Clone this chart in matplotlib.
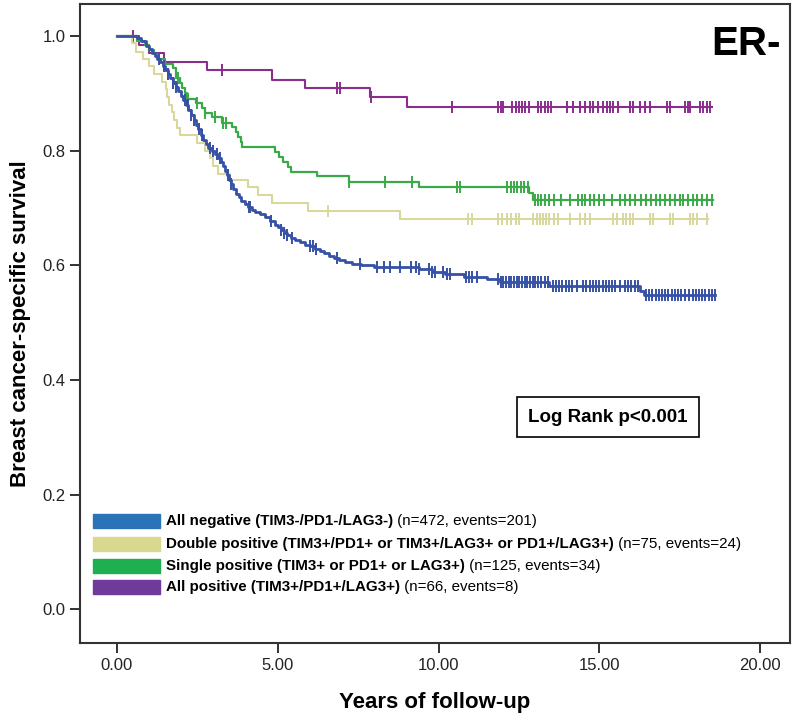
import numpy as np
import matplotlib
matplotlib.use("Agg")
import matplotlib.pyplot as plt

plt.rcParams["font.family"] = ["Liberation Sans", "DejaVu Sans"]

# step curves: (time of drop, survival after drop)
neg_t = [0.0, 0.61, 0.75, 0.9, 1.0, 1.1, 1.18, 1.26, 1.34, 1.42, 1.49, 1.58, 1.66, 1.74, 1.82,
         1.9, 1.98, 2.06, 2.14, 2.22, 2.30, 2.38, 2.45, 2.52, 2.6, 2.68, 2.76, 2.84, 2.95,
         3.05, 3.15, 3.25, 3.31, 3.37, 3.43, 3.49, 3.55, 3.62, 3.69, 3.78, 3.87, 3.97, 4.08,
         4.19, 4.3, 4.45, 4.6, 4.76, 4.9, 5.0, 5.1, 5.2, 5.3, 5.4, 5.55, 5.7, 5.85, 6.0,
         6.15, 6.3, 6.45, 6.6, 6.75, 6.9, 7.1, 7.3, 7.6, 8.0, 9.4, 9.8, 10.2, 10.8, 11.5,
         11.9, 13.45, 16.25, 16.4]
neg_s = [1.0, 0.996, 0.991, 0.983, 0.977, 0.970, 0.965, 0.960, 0.954, 0.947, 0.941, 0.933,
         0.926, 0.918, 0.911, 0.904, 0.896, 0.888, 0.879, 0.871, 0.862, 0.853, 0.845, 0.837,
         0.828, 0.819, 0.811, 0.804, 0.799, 0.795, 0.788, 0.780, 0.773, 0.765, 0.757, 0.749,
         0.741, 0.733, 0.725, 0.719, 0.713, 0.707, 0.701, 0.697, 0.693, 0.689, 0.684, 0.677,
         0.671, 0.666, 0.661, 0.656, 0.652, 0.648, 0.644, 0.640, 0.636, 0.633, 0.629, 0.625,
         0.621, 0.617, 0.613, 0.610, 0.606, 0.603, 0.600, 0.597, 0.594, 0.589, 0.584, 0.580,
         0.576, 0.571, 0.563, 0.555, 0.549]
neg_end = 18.6
neg_cens = [1.3, 1.45, 1.6, 1.75, 1.85, 2.1, 2.2, 2.3, 2.4, 2.55, 2.65, 2.9, 3.0, 3.1, 3.2,
            3.45, 3.55, 4.1, 4.15, 4.8, 5.1, 5.2, 5.3, 5.45, 6.0, 6.1, 6.2, 6.85, 7.55, 8.1,
            8.3, 8.5, 8.8, 9.15, 9.3, 9.4, 9.7, 9.8, 9.9, 10.15, 10.25, 10.35, 10.85, 10.95,
            11.05, 11.2, 11.85, 11.95, 12.0, 12.1, 12.2, 12.25, 12.35, 12.45, 12.5, 12.6,
            12.7, 12.75, 12.85, 12.95, 13.0, 13.1, 13.2, 13.3, 13.4, 13.55, 13.65, 13.75,
            13.85, 13.95, 14.05, 14.15, 14.3, 14.5, 14.6, 14.7, 14.8, 14.9, 15.0, 15.1, 15.2,
            15.3, 15.4, 15.5, 15.65, 15.8, 15.9, 16.0, 16.1, 16.2, 16.45, 16.55, 16.65,
            16.75, 16.85, 16.95, 17.05, 17.15, 17.25, 17.35, 17.45, 17.55, 17.65, 17.8,
            17.9, 18.0, 18.1, 18.2, 18.3, 18.4, 18.5, 18.6]

dbl_t = [0.0, 0.46, 0.6, 0.82, 1.0, 1.15, 1.4, 1.52, 1.57, 1.62, 1.7, 1.78, 1.87, 1.97,
         2.5, 2.75, 2.88, 3.0, 3.15, 3.5, 4.09, 4.4, 4.81, 5.95, 8.8]
dbl_s = [1.0, 0.987, 0.973, 0.960, 0.947, 0.933, 0.920, 0.907, 0.893, 0.880, 0.867, 0.853,
         0.840, 0.827, 0.813, 0.800, 0.787, 0.773, 0.760, 0.749, 0.737, 0.722, 0.708,
         0.695, 0.681]
dbl_end = 18.38
dbl_cens = [6.57, 10.93, 11.03, 11.85, 11.96, 12.13, 12.24, 12.4, 12.51, 12.95, 13.05,
            13.15, 13.25, 13.35, 13.45, 13.6, 13.7, 14.09, 14.4, 14.56, 14.71, 15.43,
            15.55, 15.74, 15.84, 15.95, 16.05, 16.58, 16.68, 17.2, 17.3, 17.82, 17.92,
            18.04, 18.35]

sgl_t = [0.0, 0.61, 0.87, 1.0, 1.15, 1.28, 1.5, 1.75, 1.85, 1.95, 2.01, 2.1, 2.17, 2.45,
         2.63, 2.75, 2.94, 3.26, 3.57, 3.7, 3.77, 3.85, 3.88, 4.9, 5.05, 5.15, 5.33, 5.4,
         6.21, 7.2, 9.4, 12.82, 12.95]
sgl_s = [1.0, 0.992, 0.984, 0.976, 0.968, 0.960, 0.952, 0.944, 0.927, 0.918, 0.909, 0.900,
         0.891, 0.883, 0.875, 0.866, 0.858, 0.849, 0.841, 0.832, 0.824, 0.815, 0.807,
         0.798, 0.789, 0.780, 0.771, 0.763, 0.755, 0.745, 0.737, 0.726, 0.714]
sgl_end = 18.54
sgl_cens = [1.91, 2.2, 2.48, 2.75, 3.05, 3.31, 3.4, 7.2, 8.34, 9.17, 10.56, 10.67, 12.12,
            12.25, 12.35, 12.45, 12.55, 12.65, 12.78, 13.0, 13.1, 13.2, 13.3, 13.45, 13.6,
            13.8, 14.1, 14.35, 14.45, 14.55, 14.7, 14.85, 15.0, 15.15, 15.4, 15.65, 15.8,
            15.95, 16.1, 16.3, 16.45, 16.6, 16.75, 16.9, 17.05, 17.2, 17.35, 17.5, 17.6,
            17.75, 17.9, 18.05, 18.2, 18.35, 18.5]

pos_t = [0.0, 0.7, 1.0, 1.45, 2.79, 4.81, 5.85, 7.87, 9.01]
pos_s = [1.0, 0.985, 0.970, 0.955, 0.940, 0.924, 0.909, 0.894, 0.876]
pos_end = 18.5
pos_cens = [0.5, 3.28, 6.83, 6.94, 7.9, 10.41, 11.85, 11.95, 12.0, 12.3, 12.4, 12.5, 12.6,
            12.7, 12.8, 13.1, 13.2, 13.3, 13.4, 13.5, 14.0, 14.18, 14.4, 14.56, 14.71,
            14.81, 14.96, 15.12, 15.24, 15.33, 15.43, 15.58, 15.96, 16.05, 16.27, 16.42,
            16.58, 17.1, 17.2, 17.67, 17.76, 17.82, 18.13, 18.23, 18.35, 18.44]

groups = [
    ("All negative (TIM3-/PD1-/LAG3-)", " (n=472, events=201)", neg_t, neg_s, neg_end, neg_cens,
     "#3651a5", "#2a73b9", 2.0),
    ("Double positive (TIM3+/PD1+ or TIM3+/LAG3+ or PD1+/LAG3+)", " (n=75, events=24)",
     dbl_t, dbl_s, dbl_end, dbl_cens, "#d9d79c", "#d8d88e", 1.5),
    ("Single positive (TIM3+ or PD1+ or LAG3+)", " (n=125, events=34)",
     sgl_t, sgl_s, sgl_end, sgl_cens, "#3aaa48", "#1fae50", 1.6),
    ("All positive (TIM3+/PD1+/LAG3+)", " (n=66, events=8)",
     pos_t, pos_s, pos_end, pos_cens, "#8a2e8c", "#6e3a9c", 1.5),
]

fig = plt.figure(figsize=(8, 7.18), dpi=100)
ax = fig.add_axes([0.1, 0.1045, 0.8875, 0.89])

# draw in reverse so blue sits on top like the original
for bold, normal, t, s, tend, cens, lc, pc, lw in groups[::-1]:
    tt = np.append(t, tend)
    ss = np.append(s, s[-1])
    ax.step(tt, ss, where="post", color=lc, lw=lw, zorder=3)
    idx = np.searchsorted(t, cens, side="right") - 1
    ax.plot(cens, np.array(s)[idx], ls="none", marker="|", ms=8, mew=1.4, color=lc, zorder=3)

ax.set_xlim(-1.15, 20.93)
ax.set_ylim(-0.059, 1.056)
ax.set_xticks([0, 5, 10, 15, 20])
ax.set_xticklabels(["0.00", "5.00", "10.00", "15.00", "20.00"])
ax.set_yticks([0.0, 0.2, 0.4, 0.6, 0.8, 1.0])
ax.set_yticklabels(["0.0", "0.2", "0.4", "0.6", "0.8", "1.0"])
ax.tick_params(axis="both", direction="out", length=7, width=1.3, labelsize=12, colors="#222222")
for sp in ax.spines.values():
    sp.set_linewidth(1.5)
    sp.set_color("#333333")

ax.set_ylabel("Breast cancer-specific survival", fontsize=16, fontweight="bold", labelpad=8)
ax.set_xlabel("Years of follow-up", fontsize=16, fontweight="bold", labelpad=14)

ax.text(0.987, 0.967, "ER-", transform=ax.transAxes, ha="right", va="top",
        fontsize=29, fontweight="bold")
ax.text(15.27, 0.335, "Log Rank p<0.001", ha="center", va="center", fontsize=13.5,
        fontweight="bold", bbox=dict(boxstyle="square,pad=0.6", fc="white", ec="black", lw=1.2))

# legend rows built by hand (bold label + plain counts)
row_y = [0.191, 0.155, 0.121, 0.087]
for (bold, normal, t, s, tend, cens, lc, pc, lw), ry in zip(groups, row_y):
    ax.add_patch(plt.Rectangle((0.018, ry - 0.011), 0.094, 0.022, transform=ax.transAxes,
                               color=pc, zorder=4))
    tb = ax.text(0.121, ry, bold, transform=ax.transAxes, va="center", ha="left",
                 fontsize=10.9, fontweight="bold")
    ax.annotate(normal, xy=(1, 0.5), xycoords=tb, va="center", ha="left", fontsize=10.9)

fig.savefig("out.png", dpi=100)
